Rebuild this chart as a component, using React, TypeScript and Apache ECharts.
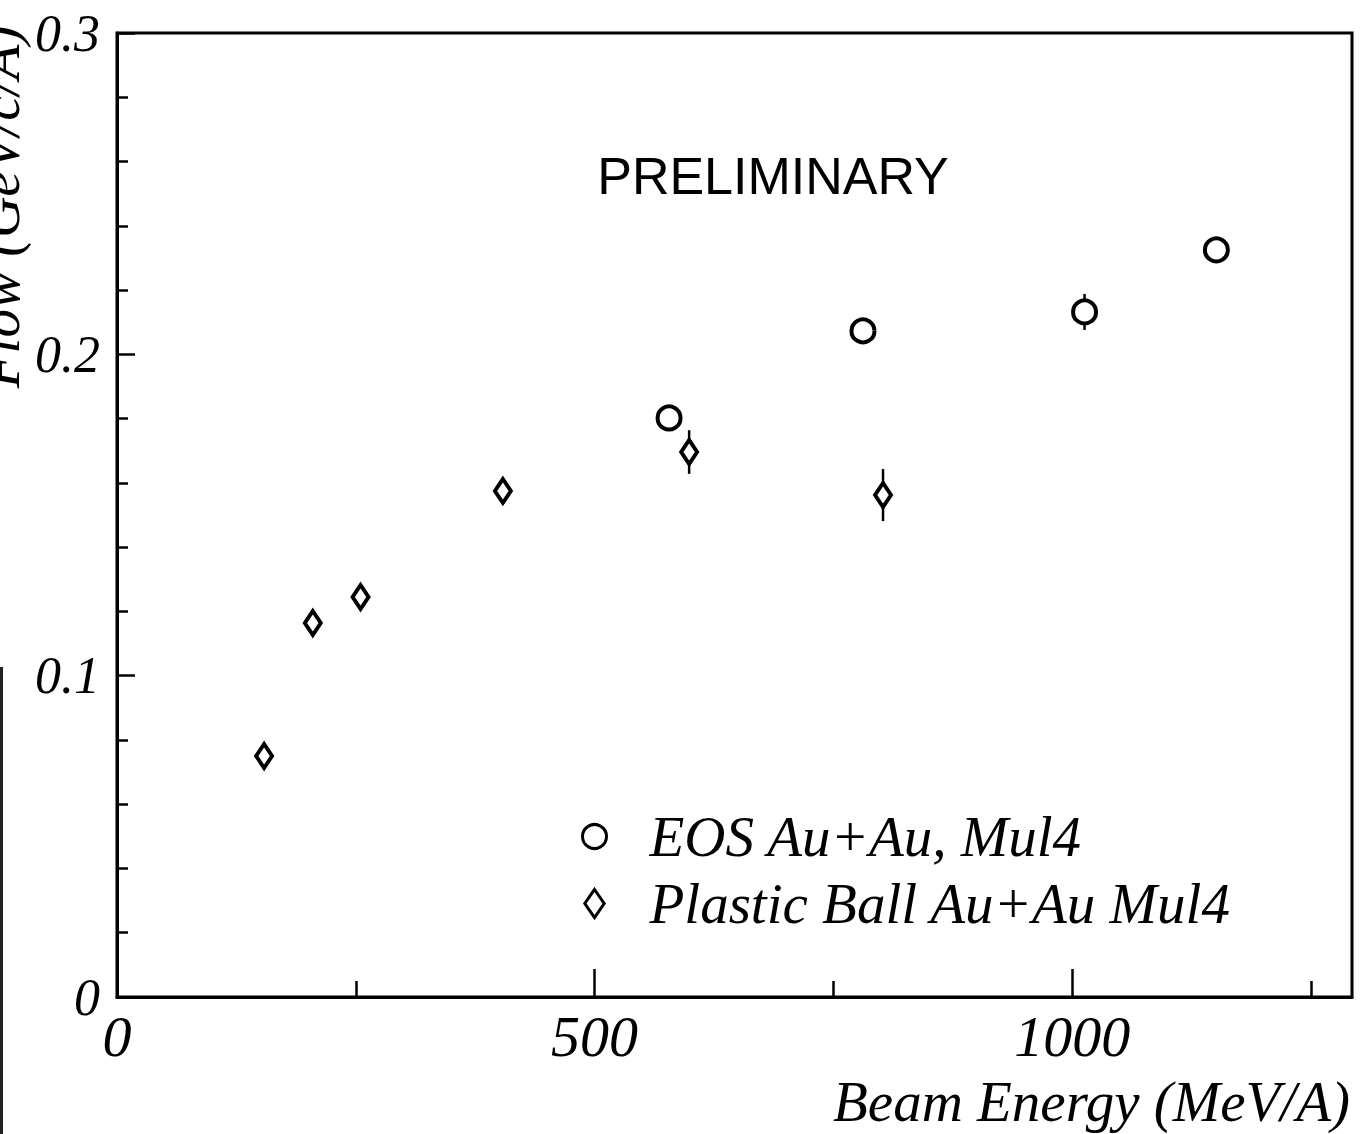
import React, { useEffect, useRef } from "react";
import * as echarts from "echarts";

// EOS Au+Au, Mul4
const eosEnergy = [578, 781, 1013, 1151];
const eosFlow = [0.1802, 0.2073, 0.2132, 0.2325];
const eosErr = [0.003, 0.003, 0.0056, 0.003];

// Plastic Ball Au+Au Mul4
const pbEnergy = [154, 205, 255, 404, 599, 802];
const pbFlow = [0.075, 0.1164, 0.1245, 0.1575, 0.1696, 0.1562];
const pbErr = [0.003, 0.003, 0.003, 0.003, 0.0068, 0.0081];

const xMax = 1293;
const xMajorTicks = [500, 1000];
const xMinorTicks = [250, 750, 1250];

const serif = '"Liberation Serif", "Times New Roman", serif';
const sans = '"Liberation Sans", Arial, sans-serif';

const EOS_NAME = "EOS Au+Au, Mul4";
const PB_NAME = "Plastic Ball Au+Au Mul4";

// tall, narrow diamond used for the legend key
const legendDiamond = "path://M9,0 L18,13 L9,26 L0,13 Z";

function errorBars(xs: number[], ys: number[], es: number[]) {
  return xs.map((x, i) => [x, ys[i] - es[i], ys[i] + es[i]]);
}

function renderErrorBar(_params: any, api: any) {
  const lo = api.coord([api.value(0), api.value(1)]);
  const hi = api.coord([api.value(0), api.value(2)]);
  return {
    type: "line",
    shape: { x1: lo[0], y1: lo[1], x2: hi[0], y2: hi[1] },
    style: { stroke: "#000", lineWidth: 2.5 },
  };
}

export default function App() {
  const ref = useRef<HTMLDivElement>(null);

  useEffect(() => {
    if (!ref.current) return;
    const chart = echarts.init(ref.current, null, { renderer: "svg" });

    const markerStyle = { color: "#fff", borderColor: "#000", borderWidth: 4, opacity: 1 };

    chart.setOption({
      animation: false,
      backgroundColor: "#fff",
      grid: {
        left: 117,
        right: 8,
        top: 33,
        bottom: 137,
        show: true,
        borderColor: "#000",
        borderWidth: 3,
        backgroundColor: "transparent",
      },
      xAxis: [
        {
          type: "value",
          min: 0,
          max: xMax,
          interval: 250,
          axisLine: { lineStyle: { color: "#000", width: 3 } },
          axisTick: {
            inside: true,
            length: 16,
            customValues: xMinorTicks,
            lineStyle: { color: "#000", width: 2.5 },
          },
          axisLabel: {
            margin: 10,
            color: "#000",
            fontFamily: serif,
            fontStyle: "italic",
            fontSize: 58,
            formatter: (v: number) => (v % 500 === 0 ? String(v) : ""),
          },
          splitLine: { show: false },
          name: "Beam Energy (MeV/A)",
          nameLocation: "end",
          nameGap: -2,
          nameTextStyle: {
            color: "#000",
            fontFamily: serif,
            fontStyle: "italic",
            fontSize: 57,
            align: "right",
            verticalAlign: "top",
            padding: [76, 0, 0, 0],
          },
        },
        {
          type: "value",
          gridIndex: 0,
          position: "bottom",
          min: 0,
          max: xMax,
          interval: 500,
          axisLine: { show: false },
          axisTick: {
            inside: true,
            length: 28,
            customValues: xMajorTicks,
            lineStyle: { color: "#000", width: 2.5 },
          },
          axisLabel: { show: false },
          splitLine: { show: false },
        },
      ],
      yAxis: {
        type: "value",
        min: 0,
        max: 0.3,
        interval: 0.1,
        axisLine: { show: true, lineStyle: { color: "#000", width: 3 } },
        axisTick: { inside: true, length: 18, lineStyle: { color: "#000", width: 2.5 } },
        minorTick: { show: true, splitNumber: 5, length: 11, lineStyle: { color: "#000", width: 2.5 } },
        axisLabel: {
          margin: 17,
          color: "#000",
          fontFamily: serif,
          fontStyle: "italic",
          fontSize: 52,
          formatter: (v: number) => (v === 0 ? "0" : v.toFixed(1)),
        },
        splitLine: { show: false },
      },
      legend: {
        show: true,
        orient: "vertical",
        left: 581,
        top: 808,
        padding: 0,
        itemWidth: 24,
        itemHeight: 28,
        itemGap: 10,
        selectedMode: false,
        itemStyle: { borderWidth: 3, borderColor: "#000", color: "#fff", opacity: 1 },
        textStyle: {
          color: "#000",
          fontFamily: serif,
          fontStyle: "italic",
          fontSize: 57,
          padding: [0, 0, 0, 38],
        },
        data: [
          { name: EOS_NAME, icon: "circle" },
          { name: PB_NAME, icon: legendDiamond },
        ],
      },
      graphic: [
        {
          type: "text",
          x: -1,
          y: 207,
          rotation: Math.PI / 2,
          style: {
            text: "Flow (GeV/c/A)",
            fill: "#000",
            fontFamily: serif,
            fontStyle: "italic",
            fontSize: 57,
            align: "center",
            verticalAlign: "middle",
          },
        },
        {
          type: "text",
          x: 773,
          y: 176,
          style: {
            text: "PRELIMINARY",
            fill: "#000",
            fontFamily: sans,
            fontSize: 52,
            align: "center",
            verticalAlign: "middle",
          },
        },
        {
          type: "line",
          shape: { x1: 1.5, y1: 667, x2: 1.5, y2: 1134 },
          style: { stroke: "#222", lineWidth: 3 },
        },
      ],
      series: [
        {
          type: "custom",
          name: "eos-err",
          renderItem: renderErrorBar,
          data: errorBars(eosEnergy, eosFlow, eosErr),
          z: 1,
          silent: true,
        },
        {
          type: "custom",
          name: "pb-err",
          renderItem: renderErrorBar,
          data: errorBars(pbEnergy, pbFlow, pbErr),
          z: 1,
          silent: true,
        },
        {
          type: "scatter",
          name: EOS_NAME,
          symbol: "circle",
          symbolSize: 23,
          itemStyle: markerStyle,
          data: eosEnergy.map((x, i) => [x, eosFlow[i]]),
          z: 3,
        },
        {
          type: "scatter",
          name: PB_NAME,
          symbol: "diamond",
          symbolSize: [16, 24],
          itemStyle: markerStyle,
          data: pbEnergy.map((x, i) => [x, pbFlow[i]]),
          z: 3,
        },
      ],
    });

    return () => chart.dispose();
  }, []);

  return (
    <div
      ref={ref}
      style={{ position: "fixed", left: 0, top: 0, width: 1360, height: 1134, background: "#fff" }}
    />
  );
}
